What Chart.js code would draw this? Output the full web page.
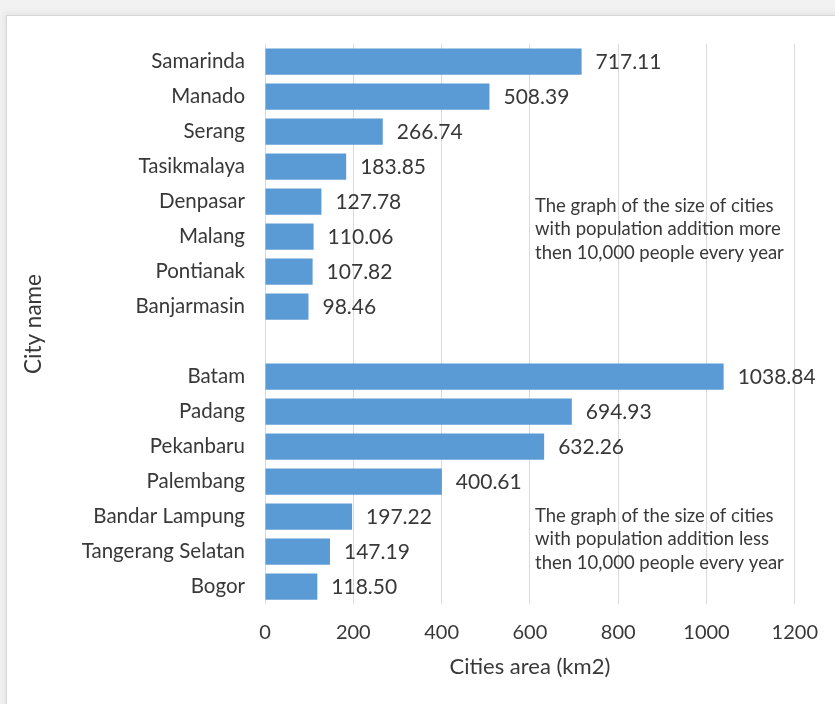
<!DOCTYPE html>
<html>
<head>
<meta charset="utf-8">
<script src="https://cdn.jsdelivr.net/npm/chart.js@4"></script>
<style>
  html, body { margin: 0; padding: 0; }
  body { width: 835px; height: 704px; background: #f2f2f2; position: relative; overflow: hidden; }
  .frame { position: absolute; left: 6px; top: 15px; width: 840px; height: 700px; background: #fff;
           border: 1px solid #d6d6d6; box-shadow: -2px -2px 6px rgba(0,0,0,0.06); }
  .wrap { position: absolute; left: 0; top: 0; width: 835px; height: 704px; }
</style>
</head>
<body>
<div class="frame"></div>
<div class="wrap"><canvas id="cityChart" width="835" height="704"></canvas></div>
<script>
// city names, blank entry separates the two groups
const cities = ['Samarinda', 'Manado', 'Serang', 'Tasikmalaya', 'Denpasar', 'Malang', 'Pontianak', 'Banjarmasin',
  '', 'Batam', 'Padang', 'Pekanbaru', 'Palembang', 'Bandar Lampung', 'Tangerang Selatan', 'Bogor'];
const areas = [717.11, 508.39, 266.74, 183.85, 127.78, 110.06, 107.82, 98.46,
  null, 1038.84, 694.93, 632.26, 400.61, 197.22, 147.19, 118.50];
const noteMore = ['The graph of the size of cities', 'with population addition more', 'then 10,000 people every year'];
const noteLess = ['The graph of the size of cities', 'with population addition less', 'then 10,000 people every year'];

const FONT = 'Lato, "Open Sans", sans-serif';
const TEXT = '#383838';

// value labels at the end of each bar
const valueLabels = {
  id: 'valueLabels',
  afterDatasetsDraw(chart) {
    const ctx = chart.ctx;
    const meta = chart.getDatasetMeta(0);
    ctx.save();
    ctx.font = '21px ' + FONT;
    ctx.fillStyle = TEXT;
    ctx.textAlign = 'left';
    ctx.textBaseline = 'middle';
    meta.data.forEach((bar, i) => {
      const v = areas[i];
      if (v == null) return;
      ctx.fillText(v.toFixed(2), bar.x + 14, bar.y + 1);
    });
    ctx.restore();
  }
};

// the two explanatory notes inside the plot
const notes = {
  id: 'notes',
  afterDraw(chart) {
    const ctx = chart.ctx;
    ctx.save();
    ctx.font = '18.5px ' + FONT;
    ctx.fillStyle = TEXT;
    ctx.textBaseline = 'middle';
    noteMore.forEach((t, i) => ctx.fillText(t, 535, 206 + i * 23.5));
    noteLess.forEach((t, i) => ctx.fillText(t, 535, 516 + i * 23.5));
    ctx.restore();
  }
};

new Chart(document.getElementById('cityChart'), {
  type: 'bar',
  data: {
    labels: cities,
    datasets: [{
      data: areas,
      backgroundColor: '#5b9bd5',
      borderWidth: 0,
      barPercentage: 0.75,
      categoryPercentage: 1
    }]
  },
  options: {
    indexAxis: 'y',
    responsive: false,
    animation: false,
    layout: { padding: { top: 44, right: 38, bottom: 20, left: 0 } },
    plugins: { legend: { display: false }, tooltip: { enabled: false } },
    scales: {
      x: {
        min: 0,
        max: 1200,
        ticks: { stepSize: 200, color: TEXT, font: { family: FONT, size: 20 }, padding: 17,
                 callback: v => String(v) },
        grid: { color: '#d9d9d9', drawTicks: false },
        border: { display: false },
        title: { display: true, text: 'Cities area (km2)', color: TEXT, font: { family: FONT, size: 22 }, padding: { top: 0, bottom: 4 } },
        afterFit(s) { s.height = 80; }
      },
      y: {
        ticks: { color: TEXT, font: { family: FONT, size: 20.5 }, padding: 12, autoSkip: false },
        grid: { display: false },
        border: { display: false },
        title: { display: true, text: 'City name', color: TEXT, font: { family: FONT, size: 22.5 }, padding: { top: 20, bottom: 0 } },
        afterFit(s) { s.width = 265; }
      }
    }
  },
  plugins: [valueLabels, notes]
});
</script>
</body>
</html>
